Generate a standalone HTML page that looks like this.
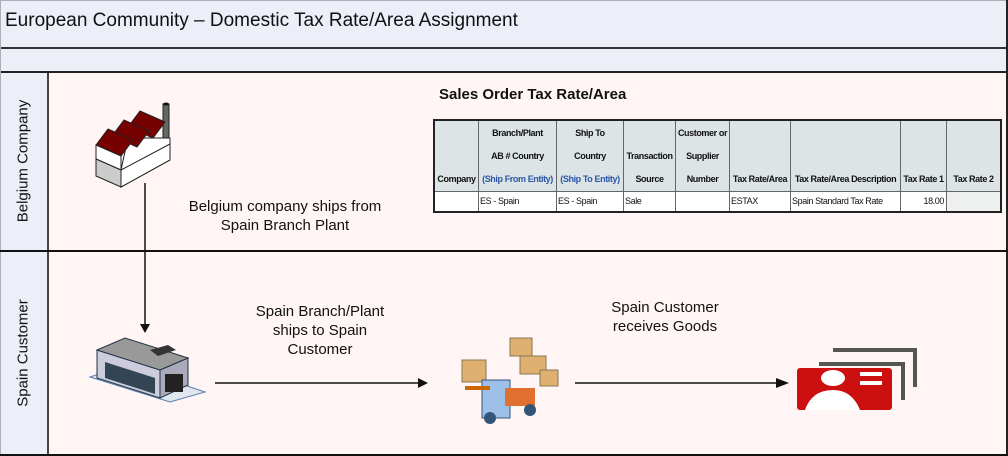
<!DOCTYPE html>
<html><head><meta charset="utf-8"><style>
*{margin:0;padding:0;box-sizing:border-box}
body{width:1008px;height:456px;position:relative;background:#fff5f5;font-family:"Liberation Sans",sans-serif;overflow:hidden}
.a{position:absolute}
.c{position:absolute;border-right:1px solid #666;font-size:9px;letter-spacing:-0.4px;white-space:nowrap;overflow:hidden;color:#111}
.h{top:0;height:70px;background:#dce4e5;font-weight:bold;text-align:center;line-height:23px;display:flex;flex-direction:column;justify-content:flex-end}
.d{top:71px;height:19px;background:#fff;line-height:19px;padding-left:1px}
.bl{color:#2a57a8}
.lbl{font-size:15px;color:#111;text-align:center;line-height:19px}
</style></head><body>
<div class="a" style="left:0;top:0;width:1008px;height:72px;background:#eceef8"></div>
<div class="a" style="left:0;top:0;width:1008px;height:1px;background:#a8b0b8"></div>
<div class="a" style="left:5px;top:10px;font-size:19px;color:#111">European Community – Domestic Tax Rate/Area Assignment</div>
<div class="a" style="left:0;top:47px;width:1008px;height:2px;background:#333"></div>
<div class="a" style="left:0;top:71px;width:1008px;height:2px;background:#222"></div>
<div class="a" style="left:0;top:73px;width:47px;height:383px;background:#eceef8"></div>
<div class="a" style="left:47px;top:73px;width:2px;height:383px;background:#444"></div>
<div class="a" style="left:0;top:0;width:1px;height:456px;background:#a8b0b8"></div>
<div class="a" style="left:1006px;top:0;width:2px;height:456px;background:#222"></div>
<div class="a" style="left:0;top:250px;width:1008px;height:2px;background:#111"></div>
<div class="a" style="left:0;top:454px;width:1008px;height:2px;background:#111"></div>
<div class="a" style="left:23px;top:161px;transform:translate(-50%,-50%) rotate(-90deg);font-size:15px;white-space:nowrap;color:#111">Belgium Company</div>
<div class="a" style="left:23px;top:353px;transform:translate(-50%,-50%) rotate(-90deg);font-size:15px;white-space:nowrap;color:#111">Spain Customer</div>

<div class="a" style="left:439px;top:86px;font-size:15px;font-weight:bold;color:#111">Sales Order Tax Rate/Area</div>
<div class="a" style="left:433px;top:119px;width:569px;height:94px;border:2px solid #222;background:#666">
<div class="a" style="left:0;top:0;width:565px;height:90px">
<div class="c h" style="left:0;width:44px">Company</div>
<div class="c h" style="left:44px;width:78px"><div>Branch/Plant</div><div>AB # Country</div><div class="bl">(Ship From Entity)</div></div>
<div class="c h" style="left:122px;width:67px"><div>Ship To</div><div>Country</div><div class="bl">(Ship To Entity)</div></div>
<div class="c h" style="left:189px;width:52px"><div>Transaction</div><div>Source</div></div>
<div class="c h" style="left:241px;width:54px"><div>Customer or</div><div>Supplier</div><div>Number</div></div>
<div class="c h" style="left:295px;width:61px">Tax Rate/Area</div>
<div class="c h" style="left:356px;width:110px">Tax Rate/Area Description</div>
<div class="c h" style="left:466px;width:46px">Tax Rate 1</div>
<div class="c h" style="left:512px;width:53px;border-right:none">Tax Rate 2</div>
<div class="c d" style="left:0;width:44px"></div>
<div class="c d" style="left:44px;width:78px">ES - Spain</div>
<div class="c d" style="left:122px;width:67px">ES - Spain</div>
<div class="c d" style="left:189px;width:52px">Sale</div>
<div class="c d" style="left:241px;width:54px"></div>
<div class="c d" style="left:295px;width:61px">ESTAX</div>
<div class="c d" style="left:356px;width:110px">Spain Standard Tax Rate</div>
<div class="c d" style="left:466px;width:46px;text-align:right;padding-right:2px">18.00</div>
<div class="c d" style="left:512px;width:53px;border-right:none;background:#eef0f0"></div>
</div></div>

<div class="a lbl" style="left:170px;top:197px;width:230px">Belgium company ships from<br>Spain Branch Plant</div>
<div class="a lbl" style="left:230px;top:302px;width:180px">Spain Branch/Plant<br>ships to Spain<br>Customer</div>
<div class="a lbl" style="left:590px;top:298px;width:150px">Spain Customer<br>receives Goods</div>

<svg class="a" style="left:0;top:0" width="1008" height="456">
<!-- factory -->
<rect x="163" y="104" width="6" height="34" fill="#666" stroke="#222"/>
<ellipse cx="166" cy="104" rx="3" ry="1.5" fill="#111"/>
<polygon points="128,138 170,138 170,160 121,187 121,170" fill="#fff" stroke="#222"/>
<polygon points="128,127 140,111 165,122 153,138" fill="#700" stroke="#222"/>
<polygon points="112,136 124,120 149,131 137,147" fill="#700" stroke="#222"/>
<polygon points="96,145 108,129 133,140 121,156" fill="#700" stroke="#222"/>
<polygon points="96,159 96,145 121,156 121,170" fill="#fff" stroke="#222"/>
<polygon points="96,159 121,170 121,187 96,176" fill="#ccc" stroke="#222"/>
<polygon points="121,170 170,144 170,160 121,187" fill="#fff" stroke="#222"/>
<!-- vertical arrow -->
<line x1="145" y1="183" x2="145" y2="324" stroke="#111" stroke-width="1.5"/>
<polygon points="140,324 150,324 145,333" fill="#111"/>
<!-- warehouse -->
<polygon points="90,377 170,402 205,392 125,365" fill="#dfe6ee" stroke="#5a80b0"/>
<polygon points="97,350 160,370 160,398 97,378" fill="#ccd" stroke="#234"/>
<polygon points="160,370 188,358 188,385 160,398" fill="#aab" stroke="#234"/>
<polygon points="97,350 125,338 188,358 160,370" fill="#999" stroke="#234"/>
<polygon points="105,362 155,378 155,394 105,378" fill="#345"/>
<rect x="165" y="374" width="18" height="18" fill="#222"/>
<polygon points="150,350 168,345 176,350 158,356" fill="#333"/>
<!-- arrows -->
<line x1="215" y1="383" x2="418" y2="383" stroke="#111" stroke-width="1.5"/>
<polygon points="418,378 428,383 418,388" fill="#111"/>
<line x1="575" y1="383" x2="784" y2="383" stroke="#111" stroke-width="1.5"/>
<polygon points="776,378 789,383 776,388" fill="#111"/>
<!-- forklift -->
<rect x="510" y="338" width="22" height="18" fill="#e0b070" stroke="#875"/>
<rect x="520" y="356" width="26" height="18" fill="#e0b070" stroke="#875"/>
<rect x="540" y="370" width="18" height="16" fill="#e0b070" stroke="#875"/>
<rect x="462" y="360" width="24" height="22" fill="#e0b070" stroke="#875"/>
<rect x="482" y="380" width="28" height="38" fill="#9cc0e8" stroke="#357"/>
<rect x="505" y="388" width="30" height="18" fill="#e07030"/>
<circle cx="490" cy="418" r="6" fill="#357"/><circle cx="530" cy="410" r="6" fill="#357"/>
<rect x="465" y="386" width="25" height="4" fill="#c60"/>
<!-- customer cards -->
<path d="M833,350 H915 V387" fill="none" stroke="#555" stroke-width="4"/>
<path d="M819,364 H903 V400" fill="none" stroke="#555" stroke-width="4"/>
<rect x="797" y="368" width="95" height="42" rx="3" fill="#cc1010"/>
<ellipse cx="833" cy="378" rx="12" ry="8" fill="#fff"/>
<path d="M805,410 Q812,390 833,390 Q852,390 860,410Z" fill="#fff"/>
<rect x="860" y="372" width="22" height="4" fill="#fff"/><rect x="860" y="381" width="22" height="4" fill="#fff"/>
</svg>
</body></html>
